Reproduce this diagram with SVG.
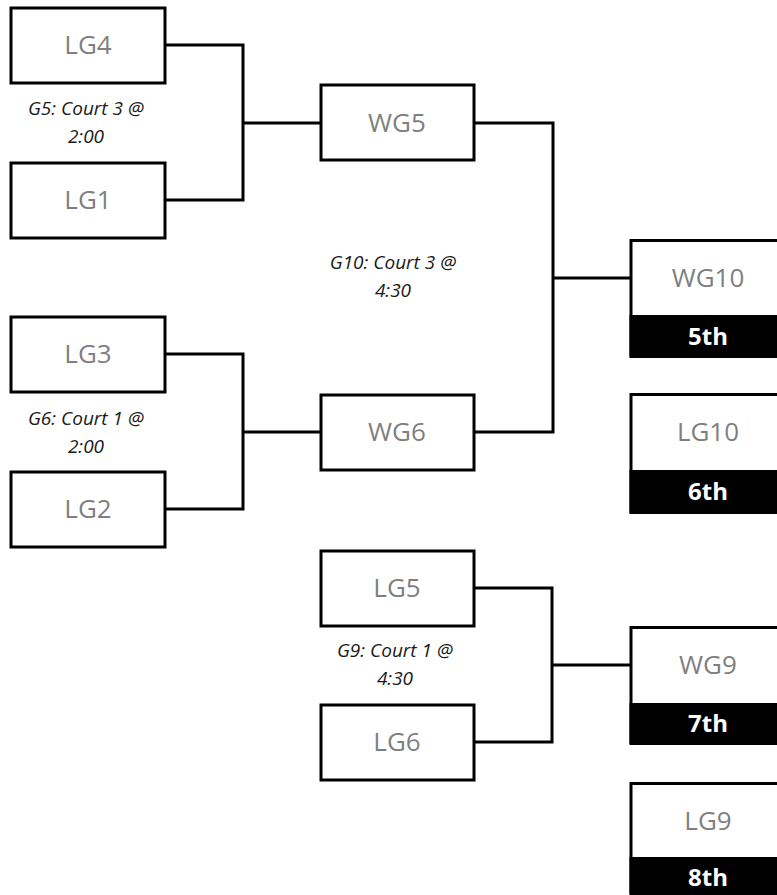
<svg xmlns="http://www.w3.org/2000/svg" width="777" height="895" viewBox="0 0 777 895">
<style>
.box{fill:#fff;stroke:#000;stroke-width:3}
.bar{fill:#000}
.lbl{font-family:"Open Sans","Noto Sans",sans-serif;font-size:26px;fill:#7f7f7f;text-anchor:middle}
.rank{font-family:"Open Sans","Noto Sans",sans-serif;font-size:24px;font-weight:bold;fill:#fff;text-anchor:middle}
.note{font-family:"Open Sans","Noto Sans",sans-serif;font-size:19px;font-style:italic;fill:#1a1a1a;text-anchor:middle}
.con{fill:none;stroke:#000;stroke-width:3}
</style>
<rect width="777" height="895" fill="#fff"/>
<g id="connectors">
<path class="con" d="M166,45 H243 V200 H166 M243,123 H320"/>
<path class="con" d="M166,354 H243 V509 H166 M243,432 H320"/>
<path class="con" d="M475,123 H553 V432 H475 M553,278 H630"/>
<path class="con" d="M475,588 H552 V742 H475 M552,665 H630"/>
</g>
<g id="LG4"><rect class="box" x="11" y="8" width="154" height="75"/><text class="lbl" x="88" y="54">LG4</text></g>
<g id="LG1"><rect class="box" x="11" y="163" width="154" height="75"/><text class="lbl" x="88" y="209">LG1</text></g>
<g id="LG3"><rect class="box" x="11" y="317" width="154" height="75"/><text class="lbl" x="88" y="363">LG3</text></g>
<g id="LG2"><rect class="box" x="11" y="472" width="154" height="75"/><text class="lbl" x="88" y="518">LG2</text></g>
<g id="WG5"><rect class="box" x="321" y="85" width="153" height="75"/><text class="lbl" x="397" y="132">WG5</text></g>
<g id="WG6"><rect class="box" x="321" y="395" width="153" height="75"/><text class="lbl" x="397" y="441">WG6</text></g>
<g id="LG5"><rect class="box" x="321" y="551" width="153" height="75"/><text class="lbl" x="397" y="597">LG5</text></g>
<g id="LG6"><rect class="box" x="321" y="705" width="153" height="75"/><text class="lbl" x="397" y="751">LG6</text></g>
<g id="WG10"><rect class="box" x="631" y="240.5" width="160" height="116"/><rect class="bar" x="629.5" y="315" width="160" height="42"/><text class="lbl" x="708" y="287">WG10</text><text class="rank" x="708" y="345">5th</text></g>
<g id="LG10"><rect class="box" x="631" y="394.5" width="160" height="118"/><rect class="bar" x="629.5" y="470" width="160" height="43"/><text class="lbl" x="708" y="441">LG10</text><text class="rank" x="708" y="500">6th</text></g>
<g id="WG9"><rect class="box" x="631" y="627.5" width="160" height="116"/><rect class="bar" x="629.5" y="703" width="160" height="41"/><text class="lbl" x="708" y="674">WG9</text><text class="rank" x="708" y="732">7th</text></g>
<g id="LG9"><rect class="box" x="631" y="783.5" width="160" height="110"/><rect class="bar" x="629.5" y="857" width="160" height="37"/><text class="lbl" x="708" y="830">LG9</text><text class="rank" x="708" y="886">8th</text></g>
<g id="notes">
<text class="note" x="86" y="115">G5: Court 3 @</text><text class="note" x="86" y="143">2:00</text>
<text class="note" x="86" y="425">G6: Court 1 @</text><text class="note" x="86" y="453">2:00</text>
<text class="note" x="393" y="269">G10: Court 3 @</text><text class="note" x="393" y="297">4:30</text>
<text class="note" x="395" y="657">G9: Court 1 @</text><text class="note" x="395" y="685">4:30</text>
</g>
</svg>
